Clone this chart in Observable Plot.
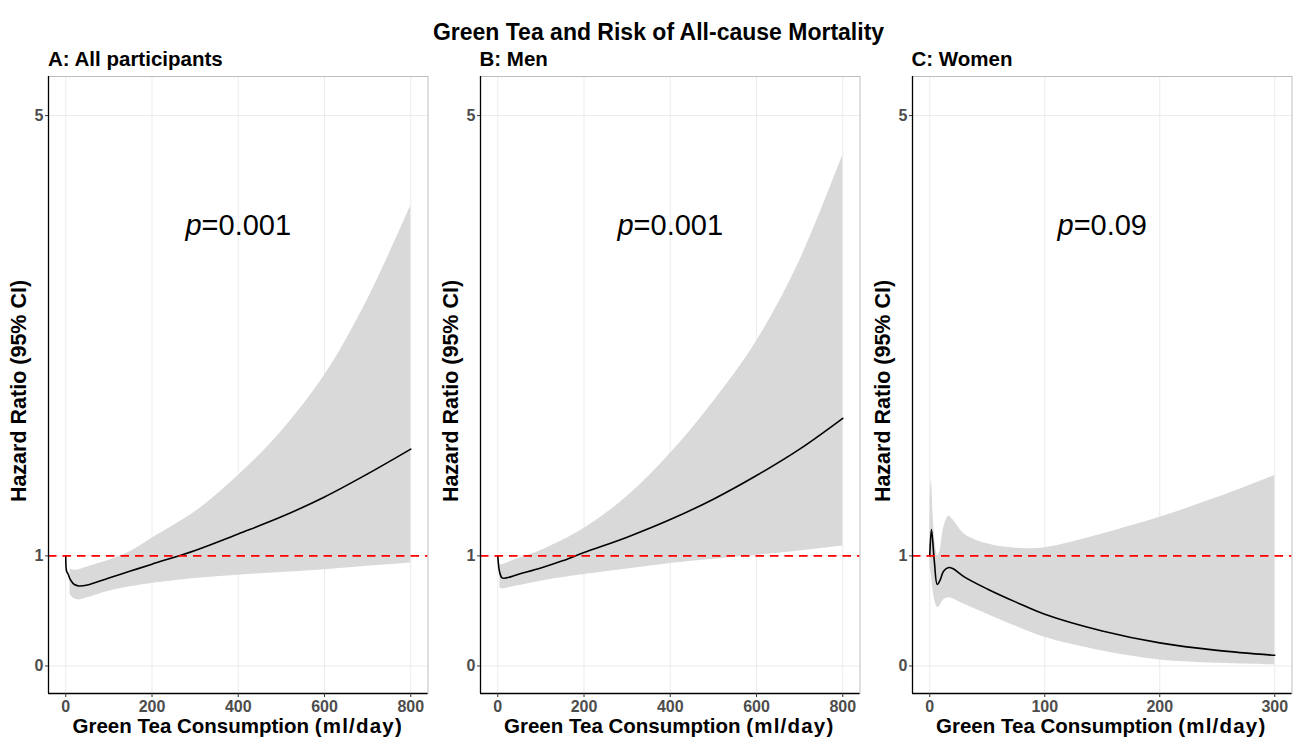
<!DOCTYPE html>
<html><head><meta charset="utf-8">
<script src="https://cdn.jsdelivr.net/npm/d3@7"></script>
<script src="https://cdn.jsdelivr.net/npm/@observablehq/plot@0.6"></script>
<style>
body{margin:0;background:#fff;}
#root{position:relative;width:1301px;height:738px;overflow:hidden;background:#fff;font-family:"Liberation Sans",Arial,Helvetica,sans-serif;}
.lab{position:absolute;font-weight:bold;color:#000;white-space:nowrap;line-height:1;}
.unit{letter-spacing:1.2px;}
</style></head><body><div id="root"></div>
<script>
// ---- text ----
const titleText = "Green Tea and Risk of All-cause Mortality";
const panelTitles = ["A: All participants", "B: Men", "C: Women"];
const xLabelMain = "Green Tea Consumption";
const xLabelUnit = "(ml/day)";
const yLabel = "Hazard Ratio (95% CI)";
const pValues = ["0.001", "0.001", "0.09"];

// ---- ticks ----
const yTicks = [0, 1, 5];
const xTicksAB = [0, 200, 400, 600, 800];
const xTicksC = [0, 100, 200, 300];

// ---- Panel A: all participants ----
const aLineX  = [0, 2, 5, 10, 15, 20, 30, 50, 100, 150, 200, 300, 400, 500, 600, 700, 800];
const aLineHR = [1.0, 0.86, 0.84, 0.79, 0.76, 0.74, 0.727, 0.735, 0.80, 0.862, 0.925, 1.05, 1.2, 1.355, 1.535, 1.745, 1.97];
const aBandX  = [10, 20, 30, 50, 100, 150, 200, 300, 400, 500, 600, 700, 800];
const aBandLo = [0.65, 0.61, 0.60, 0.62, 0.68, 0.72, 0.75, 0.795, 0.825, 0.85, 0.875, 0.905, 0.935];
const aBandHi = [0.88, 0.87, 0.875, 0.90, 0.96, 1.04, 1.16, 1.40, 1.73, 2.13, 2.64, 3.33, 4.18];

// ---- Panel B: men ----
const bLineX  = [0, 3, 6, 10, 20, 50, 100, 150, 200, 300, 400, 500, 600, 700, 800];
const bLineHR = [1.0, 0.88, 0.83, 0.80, 0.80, 0.835, 0.89, 0.955, 1.03, 1.17, 1.33, 1.515, 1.73, 1.97, 2.25];
const bBandX  = [5, 10, 30, 50, 100, 200, 300, 400, 500, 600, 700, 800];
const bBandLo = [0.71, 0.70, 0.715, 0.73, 0.77, 0.83, 0.88, 0.93, 0.97, 1.005, 1.045, 1.09];
const bBandHi = [0.92, 0.92, 0.95, 0.98, 1.05, 1.25, 1.54, 1.93, 2.40, 2.95, 3.68, 4.64];

// ---- Panel C: women ----
const cLineX  = [0, 1.5, 4, 6.5, 9, 12, 16.5, 20, 30, 50, 75, 100, 150, 200, 250, 300];
const cLineHR = [1.0, 1.24, 0.95, 0.74, 0.78, 0.86, 0.894, 0.885, 0.81, 0.70, 0.58, 0.47, 0.318, 0.21, 0.142, 0.097];
const cBandX  = [0, 0.7, 1.5, 3, 5, 7, 9, 12, 16.5, 20, 30, 50, 75, 100, 150, 200, 250, 300];
const cBandLo = [1.0, 0.88, 0.82, 0.68, 0.57, 0.53, 0.55, 0.60, 0.62, 0.61, 0.56, 0.47, 0.36, 0.26, 0.136, 0.055, 0.025, 0.01];
const cBandHi = [1.0, 1.6, 1.68, 1.35, 1.1, 1.0, 1.05, 1.25, 1.36, 1.33, 1.20, 1.11, 1.07, 1.075, 1.2, 1.35, 1.53, 1.73];

const FONT = '"Liberation Sans", Arial, Helvetica, sans-serif';
const root = document.getElementById("root");

function panel(cfg) {
  const line = cfg.lineX.map((x, i) => ({x, hr: cfg.lineHR[i]}));
  const band = cfg.bandX.map((x, i) => ({x, lo: cfg.bandLo[i], hi: cfg.bandHi[i]}));
  const yDom = [-0.25, 5.355];
  const plot = Plot.plot({
    width: 431.5, height: 668,
    marginLeft: 48, marginRight: 4, marginTop: 6, marginBottom: 45,
    style: {fontFamily: FONT, fontSize: "16px", background: "transparent", overflow: "visible"},
    x: {domain: cfg.xDom, label: null},
    y: {domain: yDom, label: null},
    marks: [
      Plot.gridX(cfg.xTicks, {stroke: "#ebebeb", strokeOpacity: 1, strokeWidth: 1}),
      Plot.gridY(yTicks, {stroke: "#ebebeb", strokeOpacity: 1, strokeWidth: 1}),
      Plot.areaY(band, {x: "x", y1: "lo", y2: "hi", fill: "#d9d9d9", fillOpacity: 1, curve: cfg.curve}),
      Plot.lineY(line, {x: "x", y: "hr", stroke: "#000", strokeWidth: 1.6, curve: cfg.curve}),
      Plot.ruleY([1], {stroke: "#ff0000", strokeWidth: 1.6, strokeDasharray: "8.5,6"}),
      Plot.frame({stroke: "#bdbdbd", strokeWidth: 1}),
      Plot.ruleX([cfg.xDom[0]], {stroke: "#000", strokeWidth: 1.3}),
      Plot.ruleY([yDom[0]], {stroke: "#000", strokeWidth: 1.3}),
      Plot.axisX(cfg.xTicks, {tickSize: 4, tickPadding: 3, fontWeight: "bold", color: "#4d4d4d", stroke: "#333", label: null, tickFormat: "d"}),
      Plot.axisY(yTicks, {tickSize: 3, tickPadding: 2, fontWeight: "bold", color: "#4d4d4d", stroke: "#333", label: null, tickFormat: "d"}),
      Plot.text([cfg.p], {x: cfg.pX, y: 4, text: d => "p=" + d, fontSize: 29, fill: "#000", lineAnchor: "middle", textAnchor: "middle"})
    ]
  });
  // italic p
  plot.querySelectorAll("text").forEach(t => {
    const s = t.textContent;
    if (s.startsWith("p=")) {
      while (t.firstChild) t.removeChild(t.firstChild);
      const ns = "http://www.w3.org/2000/svg";
      const t1 = document.createElementNS(ns, "tspan"); t1.setAttribute("font-style", "italic"); t1.textContent = "p";
      const t2 = document.createElementNS(ns, "tspan"); t2.textContent = s.slice(1);
      t.appendChild(t1); t.appendChild(t2);
    }
  });
  plot.style.left = cfg.left + "px";
  plot.style.position = "absolute";
  plot.style.top = "70px";
  root.appendChild(plot);

  const fl = cfg.left + 48, fw = 379.5;
  const t = document.createElement("div"); t.className = "lab";
  t.style.fontSize = "20.5px"; t.style.left = fl + "px"; t.style.top = "48.5px"; t.textContent = cfg.title;
  root.appendChild(t);
  const xl = document.createElement("div"); xl.className = "lab";
  xl.style.fontSize = "20.5px"; xl.style.left = (fl + fw / 2) + "px"; xl.style.top = "715.5px";
  xl.style.transform = "translateX(-50%)";
  xl.appendChild(document.createTextNode(xLabelMain + " "));
  const u = document.createElement("span"); u.className = "unit"; u.textContent = xLabelUnit;
  xl.appendChild(u);
  root.appendChild(xl);
  const yl = document.createElement("div"); yl.className = "lab";
  yl.style.fontSize = "21.5px"; yl.style.left = (cfg.left + 20) + "px"; yl.style.top = "391px";
  yl.style.transform = "translate(-50%,-50%) rotate(-90deg)"; yl.textContent = yLabel;
  root.appendChild(yl);
}

const mt = document.createElement("div"); mt.className = "lab";
mt.style.fontSize = "23px"; mt.style.left = "658.5px"; mt.style.top = "20.5px";
mt.style.transform = "translateX(-50%)"; mt.textContent = titleText;
root.appendChild(mt);

panel({left: 0, title: panelTitles[0], xDom: [-40, 840], xTicks: xTicksAB, lineX: aLineX, lineHR: aLineHR, bandX: aBandX, bandLo: aBandLo, bandHi: aBandHi, p: pValues[0], pX: 400, curve: "catmull-rom"});
panel({left: 431.5, title: panelTitles[1], xDom: [-40, 840], xTicks: xTicksAB, lineX: bLineX, lineHR: bLineHR, bandX: bBandX, bandLo: bBandLo, bandHi: bBandHi, p: pValues[1], pX: 400, curve: "catmull-rom"});
panel({left: 863.5, title: panelTitles[2], xDom: [-15, 315], xTicks: xTicksC, lineX: cLineX, lineHR: cLineHR, bandX: cBandX, bandLo: cBandLo, bandHi: cBandHi, p: pValues[2], pX: 150, curve: "catmull-rom"});
</script></body></html>
